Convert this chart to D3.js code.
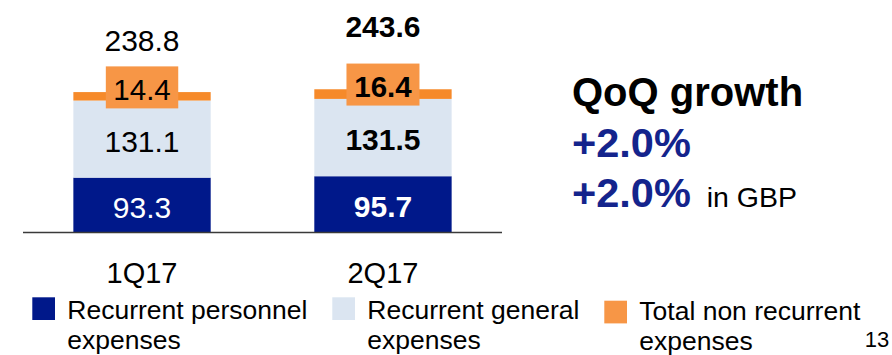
<!DOCTYPE html>
<html>
<head>
<meta charset="utf-8">
<script src="https://cdn.jsdelivr.net/npm/d3@7"></script>
<style>
  html, body { margin: 0; padding: 0; background: #fff; }
  svg { display: block; font-family: "Liberation Sans", Arial, sans-serif; }
</style>
</head>
<body>
<svg id="chart" width="892" height="355"></svg>
<script>
// Quarterly expenses, stacked by type
const categories = ["1Q17", "2Q17"];
const personnel = [93.3, 95.7];
const general = [131.1, 131.5];
const nonRecurrent = [14.4, 16.4];
const totals = [238.8, 243.6];
const legendLabels = [
  ["Recurrent personnel", "expenses"],
  ["Recurrent general", "expenses"],
  ["Total non recurrent", "expenses"]
];
const growthTitle = "QoQ growth";
const growthValues = ["+2.0%", "+2.0%"];
const growthNote = "in GBP";
const pageNumber = "13";

const colors = {
  personnel: "#00188A",
  general: "#DBE5F1",
  nonRecurrent: "#F68A2A",
  nonRecurrentBox: "#F79646",
  growth: "#14248C",
  axis: "#3a3a3a"
};

const svg = d3.select("#chart");
const baseY = 232.5;

const x = d3.scaleBand()
  .domain(categories)
  .range([23, 502])
  .paddingInner(0.43)
  .paddingOuter(0.209);

const y = d3.scaleLinear()
  .domain([0, 250])
  .range([baseY, baseY - 250 * 0.588]);

const seriesKeys = ["personnel", "general", "nonRecurrent"];
const rows = categories.map((c, i) => ({
  cat: c,
  personnel: personnel[i],
  general: general[i],
  nonRecurrent: nonRecurrent[i],
  total: totals[i],
  bold: i === categories.length - 1
}));

const stack = d3.stack().keys(seriesKeys)(rows);

// stacked segments
const layers = svg.append("g").selectAll("g")
  .data(stack)
  .join("g")
  .attr("fill", d => colors[d.key]);

layers.selectAll("rect")
  .data(d => d)
  .join("rect")
  .attr("x", d => x(d.data.cat))
  .attr("width", x.bandwidth())
  .attr("y", d => y(d[1]))
  .attr("height", d => y(d[0]) - y(d[1]));

// baseline axis
svg.append("line")
  .attr("x1", x.range()[0]).attr("x2", x.range()[1])
  .attr("y1", baseY).attr("y2", baseY)
  .attr("stroke", colors.axis)
  .attr("stroke-width", 1.6);

// labels inside personnel and general segments
const inner = [
  { layer: stack[0], fill: "#fff" },
  { layer: stack[1], fill: "#000" }
];
inner.forEach(({ layer, fill }) => {
  svg.append("g").selectAll("text")
    .data(layer)
    .join("text")
    .attr("x", d => x(d.data.cat) + x.bandwidth() / 2)
    .attr("y", d => (y(d[0]) + y(d[1])) / 2 + 12.5)
    .attr("text-anchor", "middle")
    .attr("font-size", 30)
    .attr("font-weight", d => d.data.bold ? "bold" : "normal")
    .attr("fill", fill)
    .text(d => (d[1] - d[0]).toFixed(1));
});

// non-recurrent labels sit on an orange tag over the thin segment
const tagGroups = svg.append("g").selectAll("g")
  .data(stack[2])
  .join("g");

tagGroups.each(function (d) {
  const g = d3.select(this);
  const cx = x(d.data.cat) + x.bandwidth() / 2;
  const top = y(d[1]) - 25.7;
  const rect = g.append("rect").attr("fill", colors.nonRecurrentBox);
  const t = g.append("text")
    .attr("x", cx)
    .attr("y", top + 33.5)
    .attr("text-anchor", "middle")
    .attr("font-size", 29.5)
    .attr("font-weight", d.data.bold ? "bold" : "normal")
    .attr("fill", "#000")
    .text(d.data.nonRecurrent.toFixed(1));
  const w = t.node().getBBox().width + 15;
  rect.attr("x", cx - w / 2).attr("y", top).attr("width", w).attr("height", 42);
});

// totals above bars
const totalGap = [40.7, 52.6];
svg.append("g").selectAll("text")
  .data(rows)
  .join("text")
  .attr("x", d => x(d.cat) + x.bandwidth() / 2)
  .attr("y", (d, i) => y(d.total) - totalGap[i])
  .attr("text-anchor", "middle")
  .attr("font-size", 30)
  .attr("font-weight", d => d.bold ? "bold" : "normal")
  .attr("fill", "#000")
  .text(d => d.total.toFixed(1));

// category labels
svg.append("g").selectAll("text")
  .data(categories)
  .join("text")
  .attr("x", d => x(d) + x.bandwidth() / 2)
  .attr("y", 282.7)
  .attr("text-anchor", "middle")
  .attr("font-size", 29)
  .attr("fill", "#000")
  .text(d => d);

// legend
const legendItems = [
  { color: colors.personnel, x: 32.3, y: 297.3, lines: legendLabels[0], top: 22 },
  { color: colors.general, x: 332.3, y: 297.3, lines: legendLabels[1], top: 22 },
  { color: colors.nonRecurrentBox, x: 604.3, y: 300.7, lines: legendLabels[2], top: 19.5 }
];
const leg = svg.append("g").selectAll("g")
  .data(legendItems)
  .join("g")
  .attr("transform", d => `translate(${d.x},${d.y})`);
leg.append("rect")
  .attr("width", 22.7).attr("height", 22.7)
  .attr("fill", d => d.color);
leg.append("text")
  .attr("font-size", 26.5)
  .attr("fill", "#000")
  .each(function (item) {
    d3.select(this).selectAll("tspan")
      .data(item.lines)
      .join("tspan")
      .attr("x", 35)
      .attr("y", (d, i) => item.top + i * 29.5)
      .text(d => d);
  });

// growth summary
const growth = svg.append("g");
growth.append("text")
  .attr("x", 572).attr("y", 105.7)
  .attr("font-size", 40).attr("font-weight", "bold")
  .attr("fill", "#000")
  .text(growthTitle);
growth.append("text")
  .attr("x", 572).attr("y", 156.7)
  .attr("font-size", 41.5).attr("font-weight", "bold")
  .attr("fill", colors.growth)
  .text(growthValues[0]);
const g2 = growth.append("text")
  .attr("x", 572).attr("y", 206.7)
  .attr("fill", colors.growth);
g2.append("tspan")
  .attr("font-size", 41.5).attr("font-weight", "bold")
  .text(growthValues[1]);
g2.append("tspan")
  .attr("x", 706.7)
  .attr("font-size", 28.5)
  .attr("fill", "#000")
  .text(growthNote);

// page number
svg.append("text")
  .attr("x", 864.7).attr("y", 346.7)
  .attr("font-size", 22)
  .attr("fill", "#000")
  .text(pageNumber);
</script>
</body>
</html>
